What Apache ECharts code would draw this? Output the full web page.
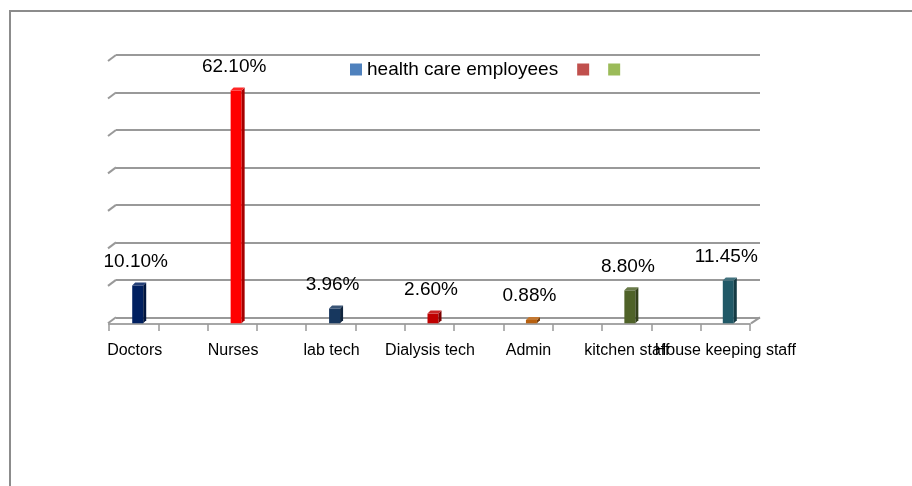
<!DOCTYPE html>
<html>
<head>
<meta charset="utf-8">
<script src="https://cdn.jsdelivr.net/npm/echarts@6/dist/echarts.min.js"></script>
<style>
  html, body { margin: 0; padding: 0; background: #fff; }
  #wrap { position: relative; width: 912px; height: 486px; overflow: hidden; }
  #frame { position: absolute; left: 9px; top: 10px; width: 1000px; height: 1000px; border: 2px solid #8c8c8c; box-sizing: border-box; }
  #chart { position: absolute; left: 0; top: 0; width: 912px; height: 486px; }
</style>
</head>
<body>
<div id="wrap">
  <div id="frame"></div>
  <div id="chart"></div>
</div>
<script>
// data
var categories = ['Doctors', 'Nurses', 'lab tech', 'Dialysis tech', 'Admin', 'kitchen staff', 'House keeping staff']
var shares = [10.10, 62.10, 3.96, 2.60, 0.88, 8.80, 11.45]
var barColors = ['#002060', '#FF0000', '#17375E', '#C00000', '#B8600E', '#4F6228', '#215967']
var seriesNames = ['health care employees', 'Series 2', 'Series 3']
var legendColors = ['#4F81BD', '#C0504D', '#9BBB59']
var yTicks = [0, 10, 20, 30, 40, 50, 60, 70]

var FONT = '"Liberation Sans", Arial, sans-serif'

// darken / lighten a hex colour
function shade(hex, f) {
  var n = parseInt(hex.slice(1), 16)
  var r = (n >> 16) & 255, g = (n >> 8) & 255, b = n & 255
  function c(v) {
    v = f < 0 ? v * (1 + f) : v + (255 - v) * f
    return Math.max(0, Math.min(255, Math.round(v)))
  }
  return 'rgb(' + c(r) + ',' + c(g) + ',' + c(b) + ')'
}

var chart = echarts.init(document.getElementById('chart'))

var option = {
  animation: false,
  legend: {
    left: 345,
    top: 55,
    icon: 'rect',
    itemWidth: 12,
    itemHeight: 12,
    itemGap: 19,
    data: seriesNames,
    formatter: function (name) {
      return name === seriesNames[0] ? name : ''
    },
    textStyle: { fontFamily: FONT, fontSize: 19, color: '#000' },
  },
  grid: [
    // back wall with the gridlines
    { left: 116, right: 152, top: 55, bottom: 168.7 },
    // bars + category labels
    { left: 85.5, width: 689, top: 55, bottom: 168.7 },
    // front edge of the floor, with ticks
    { left: 109, right: 162, top: 55, bottom: 162 },
  ],
  xAxis: [
    { gridIndex: 0, type: 'value', min: 0, max: 1, show: false },
    {
      gridIndex: 1,
      type: 'category',
      data: categories,
      axisLine: { show: false },
      axisTick: { show: false },
      axisLabel: {
        interval: 0,
        hideOverlap: false,
        margin: 25,
        fontFamily: FONT,
        fontSize: 16,
        color: '#000',
      },
    },
    {
      gridIndex: 2,
      type: 'value',
      min: 0,
      max: 13,
      interval: 1,
      axisLine: { show: true, lineStyle: { color: '#a6a6a6', width: 2 } },
      axisTick: { show: true, length: 7, lineStyle: { color: '#999', width: 1.5 } },
      axisLabel: { show: false },
      splitLine: { show: false },
    },
  ],
  yAxis: [
    {
      gridIndex: 0,
      type: 'value',
      min: 0,
      max: 70,
      interval: 10,
      axisLine: { show: false },
      axisTick: { show: false },
      axisLabel: { show: false },
      splitLine: { show: true, lineStyle: { color: '#999', width: 2 } },
    },
    { gridIndex: 1, type: 'value', min: 0, max: 70, interval: 10, show: false, splitLine: { show: false } },
    { gridIndex: 2, type: 'value', min: 0, max: 1, show: false, splitLine: { show: false } },
  ],
  series: [
    {
      // slanted ends of the gridlines (3D look)
      type: 'custom',
      xAxisIndex: 0,
      yAxisIndex: 0,
      silent: true,
      data: yTicks.map(function (v) { return [0, v] }),
      renderItem: function (params, api) {
        var v = api.value(1)
        var p = api.coord([0, v])
        var kids = [
          {
            type: 'line',
            shape: { x1: p[0], y1: p[1], x2: p[0] - 8, y2: p[1] + 6 },
            style: { stroke: '#999', lineWidth: 2 },
          },
        ]
        if (v === 0) {
          var q = api.coord([1, 0])
          kids.push({
            type: 'line',
            shape: { x1: q[0], y1: q[1], x2: q[0] - 9, y2: q[1] + 6 },
            style: { stroke: '#999', lineWidth: 2 },
          })
        }
        return { type: 'group', children: kids }
      },
    },
    {
      name: seriesNames[0],
      type: 'custom',
      xAxisIndex: 1,
      yAxisIndex: 1,
      itemStyle: { color: legendColors[0] },
      data: shares.map(function (v, i) { return [i, v] }),
      renderItem: function (params, api) {
        var i = api.value(0)
        var v = api.value(1)
        var base = api.coord([i, 0])
        var top = api.coord([i, v])
        var cx = base[0] + 3
        var y0 = base[1] + 6
        var y1 = top[1] + 6
        var w = 11, d = 3
        var col = barColors[i]
        var xl = cx - w / 2, xr = cx + w / 2
        return {
          type: 'group',
          children: [
            {
              type: 'rect',
              shape: { x: xl, y: y1, width: w, height: y0 - y1 },
              style: { fill: col },
            },
            {
              type: 'polygon',
              shape: { points: [[xr, y1], [xr + d, y1 - d], [xr + d, y0 - d], [xr, y0]] },
              style: { fill: shade(col, -0.35) },
            },
            {
              type: 'polygon',
              shape: { points: [[xl, y1], [xl + d, y1 - d], [xr + d, y1 - d], [xr, y1]] },
              style: { fill: shade(col, 0.15) },
            },
            {
              type: 'text',
              style: {
                text: v.toFixed(2) + '%',
                x: cx - 2,
                y: y1 - 24,
                align: 'center',
                verticalAlign: 'middle',
                fill: '#000',
                font: '19px ' + FONT,
              },
            },
          ],
        }
      },
    },
    { name: seriesNames[1], type: 'bar', xAxisIndex: 1, yAxisIndex: 1, data: [], itemStyle: { color: legendColors[1] } },
    { name: seriesNames[2], type: 'bar', xAxisIndex: 1, yAxisIndex: 1, data: [], itemStyle: { color: legendColors[2] } },
  ],
}

chart.setOption(option)
</script>
</body>
</html>
